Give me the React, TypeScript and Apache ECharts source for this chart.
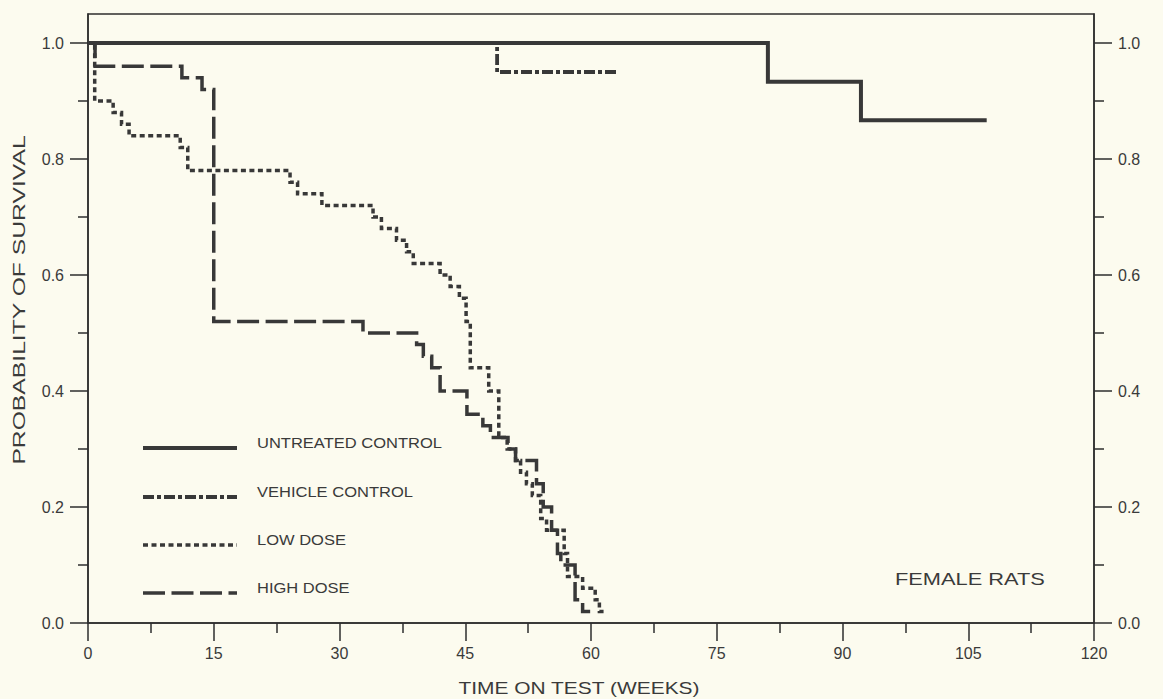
import React, { useEffect, useRef } from "react";
import * as echarts from "echarts";

// ---- data ----
const seriesNames = ["UNTREATED CONTROL", "VEHICLE CONTROL", "LOW DOSE", "HIGH DOSE"];

const untreatedWeeks = [0, 81.1, 92.2, 107.2];
const untreatedSurvival = [1.0, 0.933, 0.867, 0.867];

const vehicleWeeks = [0, 48.8, 63.1];
const vehicleSurvival = [1.0, 0.95, 0.95];

const lowDoseWeeks = [
  0, 0.8, 3.0, 4.0, 4.9, 11.0, 11.9, 24.1, 25.0, 27.9, 34.0, 35.0, 36.8, 38.0, 38.8,
  42.0, 43.2, 44.3, 45.1, 45.6, 47.8, 49.0, 50.0, 51.0, 51.6, 52.3, 53.0, 54.0, 54.7,
  56.8, 57.2, 59.0, 60.5, 61.0, 61.5,
];
const lowDoseSurvival = [
  1.0, 0.9, 0.88, 0.86, 0.84, 0.82, 0.78, 0.76, 0.74, 0.72, 0.7, 0.68, 0.66, 0.64, 0.62,
  0.6, 0.58, 0.56, 0.52, 0.44, 0.4, 0.32, 0.3, 0.28, 0.26, 0.24, 0.22, 0.18, 0.16,
  0.12, 0.08, 0.06, 0.04, 0.02, 0.02,
];

const highDoseWeeks = [
  0, 0.84, 11.2, 13.6, 15.0, 32.8, 39.2, 40.0, 41.0, 42.0, 45.2, 47.1, 48.0, 50.1, 51.0,
  53.5, 54.3, 55.3, 56.0, 56.4, 58.1, 59.0, 59.9,
];
const highDoseSurvival = [
  1.0, 0.96, 0.94, 0.92, 0.52, 0.5, 0.48, 0.46, 0.44, 0.4, 0.36, 0.34, 0.32, 0.3, 0.28,
  0.24, 0.2, 0.16, 0.12, 0.1, 0.04, 0.02, 0.02,
];

const yMajorTicks = [0, 0.2, 0.4, 0.6, 0.8, 1.0];
const yMinorTicks = [0.1, 0.3, 0.5, 0.7, 0.9];
const xTitle = "TIME ON TEST (WEEKS)";
const yTitle = "PROBABILITY OF SURVIVAL";
const panelLabel = "FEMALE RATS";

// ---- styling / layout ----
const W = 1163;
const H = 699;
const BG = "#fcfbef";
const INK = "#383838";
const AX = "#2e2e2e";
const TXT = "#3a3a3a";
const FONT = '"Liberation Sans", Arial, Helvetica, sans-serif';
const GRID = { left: 88, right: 69, top: 14, bottom: 76 };
const YMAX = 1.05;

const dashes: (number[] | "solid")[] = ["solid", [11, 3, 4, 3], [5, 3.5], [22, 6.5]];
const widths = [4, 3.8, 3.5, 3.5];

function measure(text: string, size: number): number {
  const ctx = document.createElement("canvas").getContext("2d");
  if (!ctx) return text.length * size * 0.6;
  ctx.font = `${size}px "Liberation Sans"`;
  return ctx.measureText(text).width;
}

function pairs(xs: number[], ys: number[]) {
  return xs.map((x, i) => [x, ys[i]]);
}

export default function App() {
  const ref = useRef<HTMLDivElement>(null);

  useEffect(() => {
    if (!ref.current) return;
    const chart = echarts.init(ref.current, undefined, { renderer: "svg" });

    const allData = [
      pairs(untreatedWeeks, untreatedSurvival),
      pairs(vehicleWeeks, vehicleSurvival),
      pairs(lowDoseWeeks, lowDoseSurvival),
      pairs(highDoseWeeks, highDoseSurvival),
    ];
    const order = [1, 2, 3, 0];

    const series = order.map((i) => ({
      name: seriesNames[i],
      type: "line",
      step: "end",
      symbol: "none",
      data: allData[i],
      lineStyle: { color: INK, width: widths[i], type: dashes[i], cap: "butt", join: "miter" },
      z: i === 0 ? 5 : 3,
    }));

    const legendFont = 15;
    const legendScale = 185 / measure(seriesNames[0], legendFont);
    const legendRowsY = [443, 492, 540, 588];
    const legendEls: any[] = [];
    seriesNames.forEach((name, i) => {
      const y = legendRowsY[i];
      legendEls.push({
        type: "line",
        shape: { x1: 143, y1: y + 5, x2: 237, y2: y + 5 },
        style: {
          stroke: INK,
          lineWidth: widths[i],
          lineDash: dashes[i] === "solid" ? null : dashes[i],
          lineCap: "butt",
        },
      });
      legendEls.push({
        type: "text",
        x: 257,
        y,
        scaleX: legendScale,
        style: {
          text: name,
          fontSize: legendFont,
          fontFamily: FONT,
          fill: TXT,
          textAlign: "left",
          textVerticalAlign: "middle",
          align: "left",
          verticalAlign: "middle",
        },
      });
    });

    const titleFont = 16;
    const panelScale = 150 / measure(panelLabel, titleFont);
    const xTitleScale = 242 / measure(xTitle, titleFont);
    const yTitleScale = 330 / measure(yTitle, titleFont);

    const textEl = (text: string, x: number, y: number, sx: number, rot = 0, align = "center") => ({
      type: "text",
      x,
      y,
      rotation: rot,
      scaleX: sx,
      style: {
        text,
        fontSize: titleFont,
        fontFamily: FONT,
        fill: TXT,
        textAlign: align,
        textVerticalAlign: "middle",
        align,
        verticalAlign: "middle",
      },
    });

    const yAxisBase = (position: "left" | "right", major: boolean) => ({
      type: "value",
      position,
      min: 0,
      max: YMAX,
      interval: major ? 0.2 : 0.1,
      axisLine: { show: major, onZero: false, lineStyle: { color: AX, width: 1.5 } },
      axisTick: {
        show: true,
        inside: false,
        length: major ? 18 : 10,
        customValues: major ? yMajorTicks : yMinorTicks,
        lineStyle: { color: AX, width: 1.5 },
      },
      axisLabel: {
        show: major,
        customValues: yMajorTicks,
        margin: major ? 24 : 8,
        fontSize: 16,
        fontFamily: FONT,
        color: TXT,
        formatter: (v: number) => v.toFixed(1),
      },
      splitLine: { show: false },
    });

    chart.setOption({
      animation: false,
      backgroundColor: BG,
      grid: {
        ...GRID,
        show: true,
        borderColor: AX,
        borderWidth: 1.5,
        backgroundColor: "transparent",
        containLabel: false,
      },
      xAxis: {
        type: "value",
        min: 0,
        max: 120,
        interval: 15,
        axisLine: { show: true, onZero: false, lineStyle: { color: AX, width: 1.5 } },
        axisTick: { show: true, inside: false, length: 18, lineStyle: { color: AX, width: 1.5 } },
        minorTick: { show: true, splitNumber: 2, length: 10, lineStyle: { color: AX, width: 1.5 } },
        axisLabel: { margin: 22, fontSize: 16, fontFamily: FONT, color: TXT },
        splitLine: { show: false },
        minorSplitLine: { show: false },
      },
      yAxis: [
        yAxisBase("left", true),
        yAxisBase("left", false),
        yAxisBase("right", true),
        yAxisBase("right", false),
      ],
      series,
      graphic: [
        ...legendEls,
        textEl(panelLabel, 895, 580, panelScale, 0, "left"),
        textEl(xTitle, 579, 688, xTitleScale),
        textEl(yTitle, 19, 300, yTitleScale, Math.PI / 2),
      ],
    });

    return () => chart.dispose();
  }, []);

  return (
    <div
      ref={ref}
      style={{ position: "absolute", left: 0, top: 0, width: W, height: H, background: BG }}
    />
  );
}
